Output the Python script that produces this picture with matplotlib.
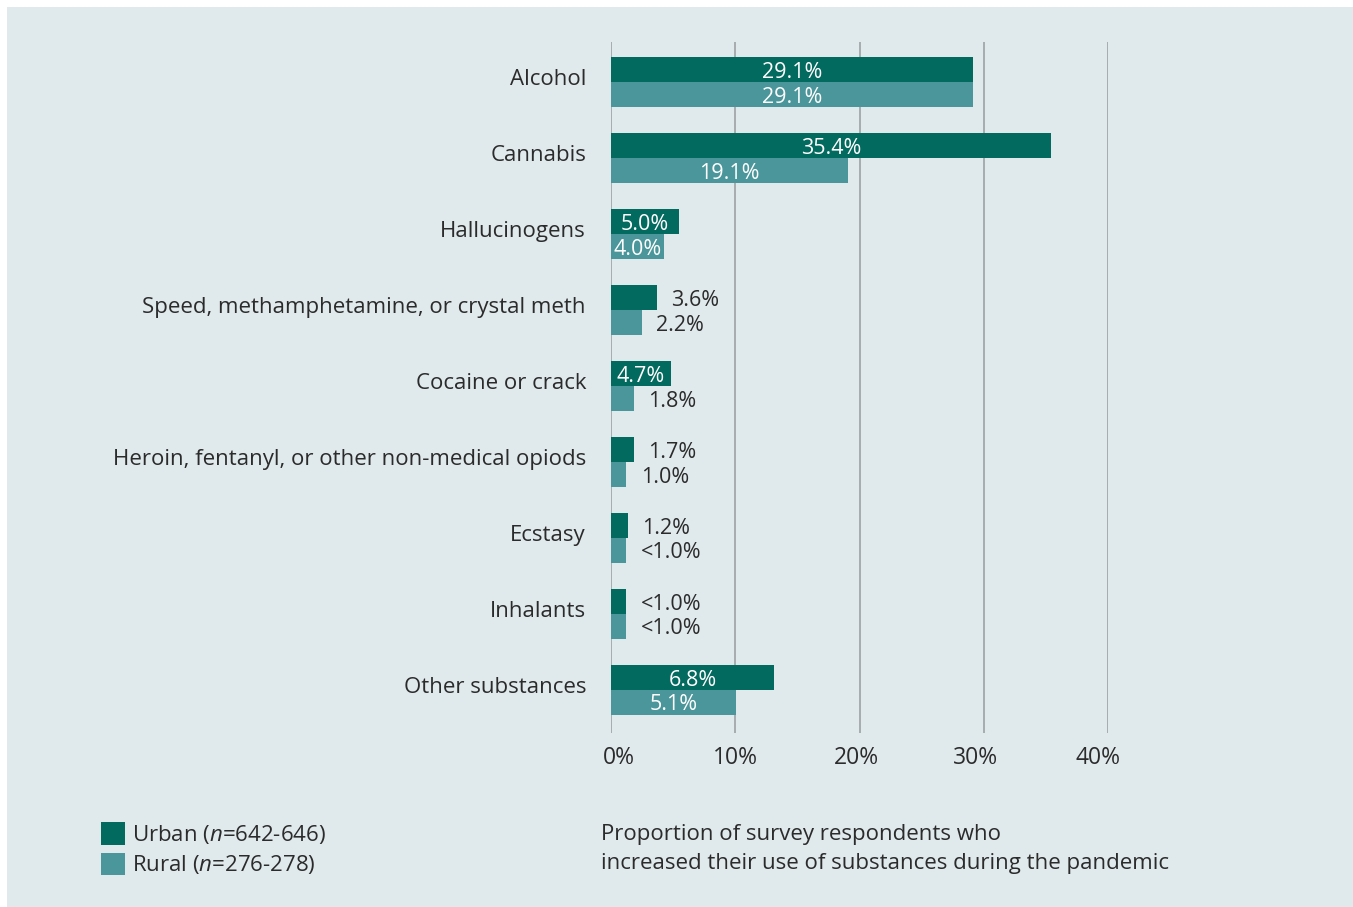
import matplotlib
matplotlib.use("Agg")
import matplotlib.pyplot as plt
from matplotlib.patches import Patch, Rectangle
from matplotlib.transforms import ScaledTranslation

# Data
categories = ["Alcohol", "Cannabis", "Hallucinogens",
              "Speed, methamphetamine, or crystal meth", "Cocaine or crack",
              "Heroin, fentanyl, or other non-medical opiods", "Ecstasy",
              "Inhalants", "Other substances"]
# bar lengths as drawn in the picture (percent)
urban_len = [29.1, 35.4, 5.5, 3.7, 4.8, 1.85, 1.4, 1.2, 13.1]
rural_len = [29.1, 19.1, 4.3, 2.5, 1.85, 1.2, 1.2, 1.2, 10.1]
# value labels printed on the bars
urban_labels = ["29.1%", "35.4%", "5.0%", "3.6%", "4.7%", "1.7%", "1.2%", "<1.0%", "6.8%"]
rural_labels = ["29.1%", "19.1%", "4.0%", "2.2%", "1.8%", "1.0%", "<1.0%", "<1.0%", "5.1%"]
x_ticks = [0, 10, 20, 30, 40]
x_ticklabels = ["0%", "10%", "20%", "30%", "40%"]
legend_labels = ["Urban ($\\it{n}$=642-646)", "Rural ($\\it{n}$=276-278)"]
caption = ("Proportion of survey respondents who\n"
           "increased their use of substances during the pandemic")

URBAN = "#036a5f"
RURAL = "#4a969b"
PANEL = "#e0e9eb"
TEXT = "#2b2b2b"
GRID = "#a3a7a9"
FONT = "Open Sans"

plt.rcParams["font.family"] = [FONT, "DejaVu Sans"]
plt.rcParams["mathtext.fontset"] = "custom"
plt.rcParams["mathtext.rm"] = FONT
plt.rcParams["mathtext.it"] = FONT + ":italic"

W, H = 1353, 907
fig = plt.figure(figsize=(W / 100, H / 100), dpi=100)
fig.patch.set_facecolor("white")
# light panel, white strip on top and left
fig.add_artist(Rectangle((7 / W, 0), 1, 1 - 7 / H, transform=fig.transFigure,
                         facecolor=PANEL, edgecolor="none", zorder=-10))

ax = fig.add_axes([611 / W, 1 - 733 / H, (1108 - 611) / W, (733 - 42) / H])
ax.set_facecolor("none")

h = 25 / 76
ys = list(range(len(categories)))
ax.barh([y - h / 2 for y in ys], urban_len, height=h, color=URBAN, zorder=3)
ax.barh([y + h / 2 for y in ys], rural_len, height=h, color=RURAL, zorder=3)


def put_label(y, length, text):
    if length >= 4.0:
        ax.text(length / 2, y, text, ha="center", va="center_baseline",
                color="white", fontsize=15.5, zorder=4)
    else:
        ax.text(max(length + 1.1, 2.4), y, text, ha="left",
                va="center_baseline", color=TEXT, fontsize=15.5, zorder=4)


for y in ys:
    put_label(y - h / 2, urban_len[y], urban_labels[y])
    put_label(y + h / 2, rural_len[y], rural_labels[y])

ax.set_xlim(0, 40)
ax.set_ylim(8 + 43 / 76, -40 / 76)
ax.set_xticks(x_ticks)
ax.set_xticklabels(x_ticklabels, fontsize=16.5, color=TEXT)
ax.set_yticks(ys)
ax.set_yticklabels(categories, fontsize=16, color=TEXT)
ax.tick_params(axis="x", length=0, pad=9)
ax.tick_params(axis="y", length=0, pad=18)
shift = ScaledTranslation(0, 5 / 100, fig.dpi_scale_trans)
for lab in ax.get_yticklabels():
    lab.set_transform(lab.get_transform() + shift)
# the reference nudges the outer tick labels inwards a little
for lab, dx in zip(ax.get_xticklabels(), [8, 0, -3, -8, -10]):
    lab.set_transform(lab.get_transform()
                      + ScaledTranslation(dx / 100, 0, fig.dpi_scale_trans))

for s in ax.spines.values():
    s.set_visible(False)
ax.grid(axis="x", color=GRID, linewidth=1.3, zorder=0)
ax.grid(axis="y", visible=False)

handles = [Patch(facecolor=URBAN), Patch(facecolor=RURAL)]
fig.legend(handles, legend_labels, loc="upper left",
           bbox_to_anchor=(101 / W, 1 - 822 / H), frameon=False,
           fontsize=16, handlelength=1.1, handleheight=1.2,
           handletextpad=0.3, labelspacing=0.3, borderpad=0,
           borderaxespad=0, labelcolor=TEXT)

fig.text(601 / W, 1 - 849 / H, caption, ha="left", va="center",
         fontsize=16, color=TEXT, linespacing=1.5)

fig.savefig("out.png", dpi=100, facecolor=fig.get_facecolor())
